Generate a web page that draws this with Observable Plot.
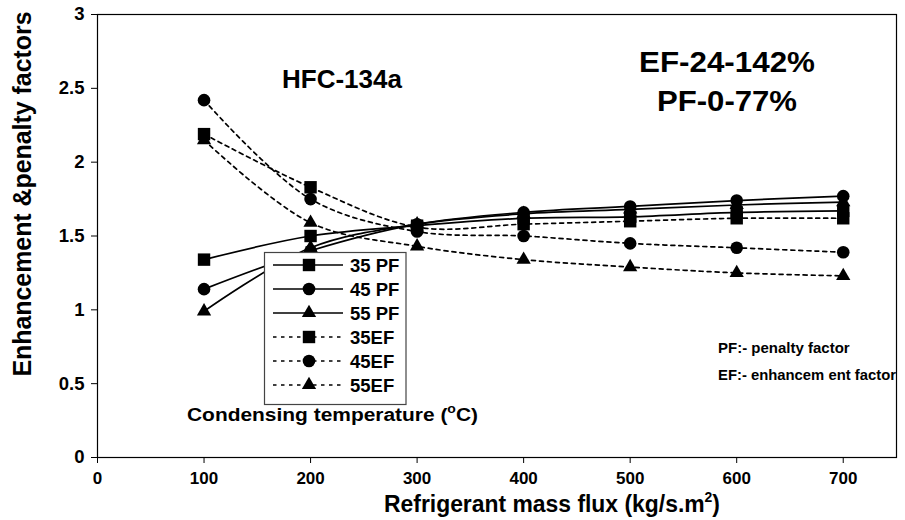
<!DOCTYPE html>
<html>
<head>
<meta charset="utf-8">
<script src="https://cdn.jsdelivr.net/npm/d3@7"></script>
<script src="https://cdn.jsdelivr.net/npm/@observablehq/plot@0.6"></script>
<style>
  body { margin: 0; background: #fff; }
  #chart { position: relative; width: 905px; height: 520px; }
</style>
</head>
<body>
<div id="chart"></div>
<script>
// ---- data ----
const massFlux = [100, 200, 300, 400, 500, 600, 700];
const pf35 = [1.34, 1.50, 1.57, 1.62, 1.63, 1.66, 1.67];
const pf45 = [1.14, 1.40, 1.58, 1.66, 1.70, 1.74, 1.77];
const pf55 = [0.99, 1.42, 1.58, 1.65, 1.68, 1.71, 1.73];
const ef35 = [2.19, 1.83, 1.56, 1.58, 1.60, 1.62, 1.62];
const ef45 = [2.42, 1.75, 1.53, 1.50, 1.45, 1.42, 1.39];
const ef55 = [2.15, 1.59, 1.43, 1.34, 1.29, 1.25, 1.23];

const seriesNames   = ["35 PF", "45 PF", "55 PF", "35EF", "45EF", "55EF"];
const seriesValues  = [pf35, pf45, pf55, ef35, ef45, ef55];
const seriesSymbols = ["square", "circle", "triangle", "square", "circle", "triangle"];
const seriesDashed  = [false, false, false, true, true, true];

const xTicks = [0, 100, 200, 300, 400, 500, 600, 700];
const yTicks = [0, 0.5, 1, 1.5, 2, 2.5, 3];

const xTitle = "Refrigerant mass flux (kg/s.m";
const yTitle = "Enhancement &penalty factors";
const fluidLabel = "HFC-134a";
const rangeLabels = ["EF-24-142%", "PF-0-77%"];
const noteLabels = ["PF:- penalty factor", "EF:- enhancem ent factor"];
const legendTitle = "Condensing temperature (";

// ---- table built from the arrays ----
const rows = seriesNames.flatMap((name, i) =>
  massFlux.map((x, j) => ({
    series: name, x, y: seriesValues[i][j],
    symbol: seriesSymbols[i], dashed: seriesDashed[i]
  }))
);

const font = "'Liberation Sans', Arial, Helvetica, sans-serif";
const symbolR = {square: 7, circle: 6.3, triangle: 5.3};
const dashArray = "4,4";

const plot = Plot.plot({
  width: 905,
  height: 520,
  marginLeft: 97,
  marginRight: 9,
  marginTop: 14,
  marginBottom: 63,
  style: {fontFamily: font, fontWeight: "bold", color: "#000", background: "#fff", overflow: "visible"},
  x: {domain: [0, 750]},
  y: {domain: [0, 3]},
  marks: [
    Plot.frame({stroke: "#000", strokeWidth: 1.2}),
    Plot.axisX(xTicks, {tickSize: 6, tickPadding: 8, fontSize: 17, fontWeight: "bold", label: null, tickFormat: d => String(d)}),
    Plot.axisY(yTicks, {tickSize: 6, tickPadding: 7, fontSize: 18.5, fontWeight: "bold", label: null, tickFormat: d => String(d)}),
    Plot.line(rows.filter(d => !d.dashed), {x: "x", y: "y", z: "series", curve: "catmull-rom", stroke: "#000", strokeWidth: 1.7}),
    Plot.line(rows.filter(d => d.dashed), {x: "x", y: "y", z: "series", curve: "catmull-rom", stroke: "#000", strokeWidth: 1.7, strokeDasharray: dashArray}),
    ...["square", "circle", "triangle"].map(s =>
      Plot.dot(rows.filter(d => d.symbol === s), {x: "x", y: "y", symbol: s, r: symbolR[s], fill: "#000", stroke: "none"})
    )
  ]
});

document.getElementById("chart").appendChild(plot);

// ---- annotations, titles and legend ----
const svg = d3.select(plot);
const ann = svg.append("g").attr("font-family", font).attr("font-weight", "bold")
  .attr("fill", "#000").attr("text-anchor", "start");

function txt(str, x, y, size, anchor, len) {
  const t = ann.append("text").attr("x", x).attr("y", y).attr("font-size", size)
    .attr("text-anchor", anchor || "start").text(str);
  if (len) t.attr("textLength", len).attr("lengthAdjust", "spacingAndGlyphs");
  return t;
}

// y title
ann.append("text")
  .attr("transform", "translate(31,194) rotate(-90)")
  .attr("text-anchor", "middle")
  .attr("font-size", 25)
  .attr("textLength", 365).attr("lengthAdjust", "spacingAndGlyphs")
  .text(yTitle);

// x title with superscript
const xt = ann.append("text").attr("x", 552).attr("y", 512).attr("text-anchor", "middle")
  .attr("font-size", 23).attr("textLength", 336).attr("lengthAdjust", "spacingAndGlyphs");
xt.append("tspan").text(xTitle);
xt.append("tspan").attr("dy", -10).attr("font-size", 14).text("2");
xt.append("tspan").attr("dy", 10).text(")");

// fluid and ranges
txt(fluidLabel, 282, 88, 25, "start", 120);
txt(rangeLabels[0], 727, 72, 30, "middle", 176);
txt(rangeLabels[1], 727, 111, 30, "middle", 140);

// notes
txt(noteLabels[0], 718, 353, 15, "start");
txt(noteLabels[1], 718, 380, 15, "start", 178);

// legend
const leg = svg.append("g").attr("font-family", font).attr("font-weight", "bold").attr("text-anchor", "start");
leg.append("rect").attr("x", 264.5).attr("y", 252.5).attr("width", 141.5).attr("height", 152)
  .attr("fill", "#fff").attr("stroke", "#444").attr("stroke-width", 1.2);
const symGen = {square: d3.symbolSquare, circle: d3.symbolCircle, triangle: d3.symbolTriangle};
seriesNames.forEach((name, i) => {
  const yy = 265 + i * 24;
  leg.append("line").attr("x1", 273).attr("x2", 343).attr("y1", yy).attr("y2", yy)
    .attr("stroke", "#000").attr("stroke-width", 1.7)
    .attr("stroke-dasharray", seriesDashed[i] ? "3.5,4.5" : null);
  const r = symbolR[seriesSymbols[i]];
  leg.append("path").attr("transform", `translate(309,${yy})`)
    .attr("d", d3.symbol(symGen[seriesSymbols[i]], r * r * Math.PI)())
    .attr("fill", "#000");
  leg.append("text").attr("x", 350).attr("y", yy).attr("dy", "0.36em")
    .attr("font-size", 18.5).attr("fill", "#000").attr("text-anchor", "start").text(name);
});
const lt = ann.append("text").attr("x", 187).attr("y", 421).attr("font-size", 18)
  .attr("text-anchor", "start")
  .attr("textLength", 291).attr("lengthAdjust", "spacingAndGlyphs");
lt.append("tspan").text(legendTitle);
lt.append("tspan").attr("dy", -8).attr("font-size", 12).text("o");
lt.append("tspan").attr("dy", 8).text("C)");
</script>
</body>
</html>
